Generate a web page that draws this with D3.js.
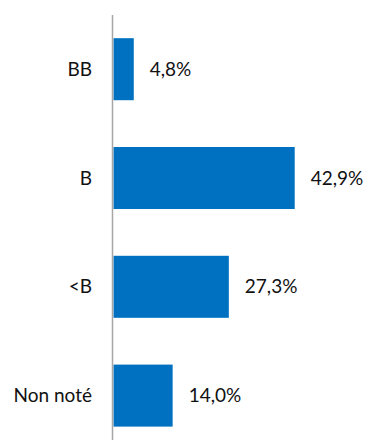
<!DOCTYPE html>
<html>
<head>
<meta charset="utf-8">
<script src="https://cdn.jsdelivr.net/npm/d3@7"></script>
<style>
  html, body { margin: 0; padding: 0; background: #fff; }
  svg { display: block; }
  .cat, .val { font-family: Lato, "Open Sans", sans-serif; font-size: 19px; fill: #111; }
</style>
</head>
<body>
<svg id="chart"></svg>
<script>
  // Data
  const categories = ["BB", "B", "<B", "Non noté"];
  const values = [4.8, 42.9, 27.3, 14.0];

  const width = 366, height = 440;

  const svg = d3.select("#chart")
    .attr("width", width)
    .attr("height", height);

  // Scales
  const x = d3.scaleLinear()
    .domain([0, 50])
    .range([113.5, 113.5 + 50 * 4.224]);

  const y = d3.scaleBand()
    .domain(categories)
    .range([14.8, 450])
    .paddingInner(0.43)
    .paddingOuter(0.215);

  const rows = categories.map((c, i) => ({ cat: c, value: values[i] }));

  // Bars
  svg.append("g")
    .selectAll("rect")
    .data(rows)
    .join("rect")
    .attr("x", x(0))
    .attr("y", d => y(d.cat))
    .attr("width", d => x(d.value) - x(0))
    .attr("height", y.bandwidth())
    .attr("fill", "#0070C0");

  // Axis line (no ticks)
  svg.append("line")
    .attr("x1", 112.5).attr("x2", 112.5)
    .attr("y1", 15).attr("y2", height)
    .attr("stroke", "#A6A6A6")
    .attr("stroke-width", 1.5);

  // Category labels
  svg.append("g")
    .selectAll("text")
    .data(rows)
    .join("text")
    .attr("class", "cat")
    .attr("x", 92)
    .attr("y", d => y(d.cat) + y.bandwidth() / 2)
    .attr("dy", "0.35em")
    .attr("text-anchor", "end")
    .text(d => d.cat);

  // Value labels
  const fmt = v => v.toFixed(1).replace(".", ",") + "%";
  svg.append("g")
    .selectAll("text")
    .data(rows)
    .join("text")
    .attr("class", "val")
    .attr("x", d => x(d.value) + 16)
    .attr("y", d => y(d.cat) + y.bandwidth() / 2)
    .attr("dy", "0.35em")
    .text(d => fmt(d.value));
</script>
</body>
</html>
